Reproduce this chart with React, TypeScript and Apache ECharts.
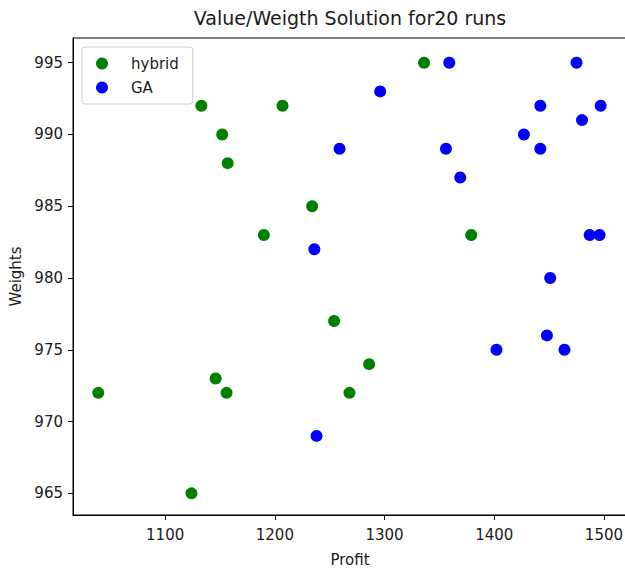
import React, { useEffect, useRef } from "react";
import * as echarts from "echarts";

const hybridProfit = [1039, 1124, 1146, 1156, 1133, 1152, 1157, 1207, 1190, 1234, 1254, 1268, 1286, 1336, 1379];
const hybridWeight = [972, 965, 973, 972, 992, 990, 988, 992, 983, 985, 977, 972, 974, 995, 983];

const gaProfit = [1238, 1236, 1259, 1296, 1359, 1356, 1369, 1427, 1442, 1442, 1475, 1480, 1497, 1487, 1496, 1451, 1448, 1464, 1402];
const gaWeight = [969, 982, 989, 993, 995, 989, 987, 990, 992, 989, 995, 991, 992, 983, 983, 980, 976, 975, 975];

const xTicks = [1100, 1200, 1300, 1400, 1500];
const yTicks = [965, 970, 975, 980, 985, 990, 995];

const FONT = "DejaVu Sans";

export default function App() {
  const ref = useRef<HTMLDivElement>(null);
  useEffect(() => {
    if (!ref.current) return;
    const chart = echarts.init(ref.current, null, { renderer: "svg" });
    const zip = (a: number[], b: number[]) => a.map((v, i) => [v, b[i]]);
    chart.setOption({
      animation: false,
      backgroundColor: "#fff",
      textStyle: { fontFamily: FONT },
      graphic: [
        {
          type: "text",
          x: 350,
          y: 8,
          style: {
            text: "Value/Weigth Solution for20 runs",
            fontFamily: FONT,
            fontSize: 19,
            fill: "#1a1a1a",
            textAlign: "center",
          },
        },
      ],
      grid: {
        left: 73,
        top: 38,
        right: -2,
        bottom: 54,
        show: true,
        borderColor: "#000",
        borderWidth: 1,
        containLabel: false,
        outerBoundsMode: "none",
      },
      legend: {
        left: 82,
        top: 47,
        orient: "vertical",
        padding: [9, 14, 9, 14],
        itemWidth: 12,
        itemHeight: 12,
        itemGap: 9,
        borderColor: "#cccccc",
        borderWidth: 1,
        borderRadius: 3,
        backgroundColor: "rgba(255,255,255,0.8)",
        textStyle: { fontFamily: FONT, fontSize: 15, color: "#1a1a1a", padding: [0, 0, 0, 18] },
        data: [
          { name: "hybrid", icon: "circle" },
          { name: "GA", icon: "circle" },
        ],
      },
      xAxis: {
        type: "value",
        min: 1016,
        max: 1521,
        name: "Profit",
        nameLocation: "middle",
        nameGap: 37,
        nameTextStyle: { fontFamily: FONT, fontSize: 15, color: "#1a1a1a" },
        splitLine: { show: false },
        axisLine: { show: true, onZero: false, lineStyle: { color: "#000", width: 1 } },
        axisTick: { show: true, length: 5, lineStyle: { color: "#000" }, customValues: xTicks },
        axisLabel: {
          fontFamily: FONT,
          fontSize: 15,
          color: "#1a1a1a",
          margin: 12,
          customValues: xTicks,
          formatter: (v: number) => String(v),
        },
      },
      yAxis: {
        type: "value",
        min: 963.49,
        max: 996.72,
        name: "Weights",
        nameLocation: "middle",
        nameGap: 43,
        nameTextStyle: { fontFamily: FONT, fontSize: 15, color: "#1a1a1a" },
        splitLine: { show: false },
        axisLine: { show: true, onZero: false, lineStyle: { color: "#000", width: 1 } },
        axisTick: { show: true, length: 5, lineStyle: { color: "#000" }, customValues: yTicks },
        axisLabel: {
          fontFamily: FONT,
          fontSize: 15,
          color: "#1a1a1a",
          margin: 10,
          customValues: yTicks,
          formatter: (v: number) => String(v),
        },
      },
      series: [
        {
          name: "hybrid",
          type: "scatter",
          symbol: "circle",
          symbolSize: 12,
          itemStyle: { color: "#008000", opacity: 1 },
          data: zip(hybridProfit, hybridWeight),
        },
        {
          name: "GA",
          type: "scatter",
          symbol: "circle",
          symbolSize: 12,
          itemStyle: { color: "#0000ff", opacity: 1 },
          data: zip(gaProfit, gaWeight),
        },
      ],
    });
    return () => chart.dispose();
  }, []);
  return (
    <div
      ref={ref}
      style={{ position: "fixed", left: 0, top: 0, width: 625, height: 569 }}
    />
  );
}
